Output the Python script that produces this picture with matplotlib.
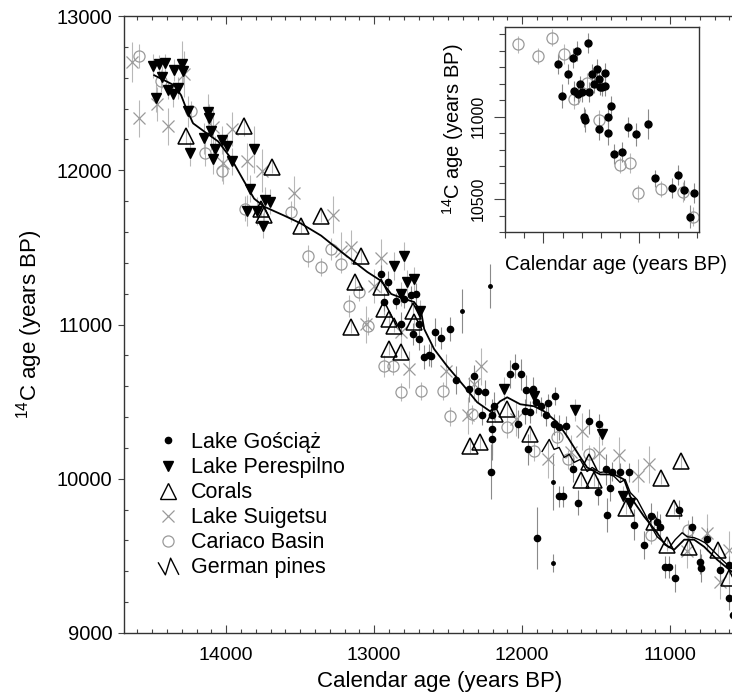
import numpy as np
import matplotlib.pyplot as plt
from matplotlib.path import Path
from matplotlib.lines import Line2D
from matplotlib.ticker import MultipleLocator, FixedLocator, NullFormatter

plt.rcParams['font.family'] = ['Liberation Sans', 'DejaVu Sans']
plt.rcParams['mathtext.fontset'] = 'custom'
plt.rcParams['mathtext.rm'] = 'Liberation Sans'
plt.rcParams['mathtext.it'] = 'Liberation Sans:italic'

# Lake Gosciaz (varve ages)
gos_cal = [12953, 12905, 12932, 12851, 12797, 12750, 12716, 12818, 12736, 12696,
           12696, 12588, 12547, 12486, 12662, 12628, 12446, 12358, 12615, 12324,
           12297, 12250, 12270, 12203, 12189, 12203, 12203, 12209, 12081, 12047,
           12007, 11973, 11926, 11980, 11946, 12027, 11905, 11872, 11824, 11777,
           11838, 11784, 11750, 11703, 11959, 11655, 11899, 11750, 11723, 11622,
           11547, 11480, 11432, 11426, 11392, 11338, 11277, 11243, 11176, 11128,
           11088, 11068, 11034, 11007, 10966, 10939, 10851, 10797, 10790, 10750,
           10662, 10601, 10601, 10574, 11486, 11405]
gos_c14 = [11328, 11276, 11146, 11153, 11166, 11192, 11198, 11003, 10938, 11003,
           10906, 10951, 10912, 10971, 10789, 10802, 10639, 10580, 10795, 10665,
           10568, 10561, 10411, 10411, 10470, 10320, 10255, 10047, 10678, 10730,
           10678, 10574, 10580, 10437, 10431, 10353, 10496, 10470, 10489, 10535,
           10411, 10353, 10333, 10340, 10190, 10060, 9618, 9885, 9885, 9846,
           10372, 10353, 10060, 9768, 10047, 10041, 10041, 9703, 9572, 9761,
           9722, 9689, 9429, 9429, 9358, 9800, 9689, 9462, 9423, 9611,
           9410, 9442, 9228, 9117, 9917, 9943]
gos_err = [60, 70, 60, 50, 60, 60, 70, 80, 70, 60,
           70, 90, 70, 80, 80, 70, 90, 80, 70, 70,
           80, 80, 60, 60, 90, 200, 100, 180, 90, 80,
           100, 100, 80, 80, 70, 90, 70, 60, 60, 60,
           70, 70, 80, 70, 100, 80, 200, 70, 70, 80,
           80, 70, 100, 110, 60, 60, 60, 100, 90, 80,
           70, 80, 70, 70, 90, 60, 70, 80, 90, 70,
           70, 60, 80, 80, 90, 90]

# Gosciaz samples of low weight
gos2_cal = [12405, 12216, 11790, 11790]
gos2_c14 = [11088, 11250, 9976, 9455]
gos2_err = [140, 140, 180, 60]

# Lake Perespilno
pere_cal = [14493, 14453, 14412, 14351, 14297, 14291, 14432, 14392, 14358, 14324,
            14473, 14257, 14122, 14115, 14243, 14149, 14101, 14074, 14088, 14027,
            13993, 13959, 13811, 13838, 13858, 13791, 13736, 13703, 13750, 12865,
            12797, 12777, 12730, 12689, 12818, 12122, 11919, 11642, 11459, 11317, 11270]
pere_c14 = [12675, 12688, 12694, 12649, 12688, 12642, 12603, 12519, 12493, 12532,
            12467, 12382, 12376, 12337, 12109, 12207, 12252, 12141, 12076, 12194,
            12154, 12057, 12135, 11881, 11738, 11738, 11810, 11797, 11641, 11381,
            11446, 11276, 11296, 11088, 11198, 10581, 10535, 10444, 10288, 9885, 9846]
pere_err = [80, 60, 60, 70, 150, 80, 70, 60, 80, 70,
            90, 100, 120, 90, 80, 100, 120, 80, 100, 90,
            80, 90, 150, 90, 100, 90, 80, 80, 80, 90,
            90, 80, 80, 70, 80, 80, 70, 70, 70, 70, 70]

# Corals (U/Th)
cor_cal = [14270, 13878, 13689, 13764, 13743, 13493, 13358, 13088, 13128, 12953,
           12932, 12899, 12865, 13155, 12736, 12730, 12899, 12818, 12351, 12284,
           12182, 12101, 11946, 11601, 11513, 11547, 11297, 11061, 10926, 10973,
           11020, 11108, 10872, 10676, 10601]
cor_c14 = [12220, 12285, 12024, 11751, 11712, 11641, 11706, 11446, 11276, 11244,
           11101, 11036, 10990, 10984, 11088, 11016, 10841, 10821, 10210, 10236,
           10418, 10450, 10288, 9995, 9995, 10106, 9813, 10008, 10112, 9813,
           9572, 9722, 9559, 9540, 9358]
cor_err = [50, 60, 40, 50, 40, 50, 40, 50, 40, 40,
           40, 40, 40, 40, 40, 40, 40, 40, 40, 40,
           50, 40, 40, 40, 40, 40, 40, 40, 40, 40,
           40, 40, 40, 40, 40]

# Lake Suigetsu
sui_cal = [14635, 14588, 14466, 14392, 14284, 14088, 13959, 14020, 13858, 13757,
           13541, 13277, 13155, 13223, 12953, 13000, 13054, 12818, 12763, 12513,
           12277, 12324, 12365, 12040, 11824, 11669, 11595, 11480, 11345, 11216,
           11142, 10885, 10750, 10662, 10601]
sui_c14 = [12701, 12337, 12428, 12285, 12623, 12278, 12265, 12044, 12057, 11998,
           11855, 11712, 11504, 11478, 11433, 11250, 11003, 10951, 10711, 10698,
           10730, 10613, 10411, 10385, 10125, 10171, 10307, 10164, 10151, 10021,
           10093, 9533, 9650, 9332, 9540]
sui_err = [130, 120, 110, 120, 150, 120, 110, 130, 120, 140,
           110, 120, 110, 120, 120, 110, 120, 110, 120, 110,
           120, 110, 120, 110, 120, 110, 120, 110, 120, 110,
           120, 110, 120, 110, 120]

# Cariaco Basin
car_cal = [14588, 14439, 14236, 14142, 14027, 13872, 13561, 13446, 13358, 13223,
           13291, 13101, 13169, 13041, 12932, 12872, 12818, 12682, 12534, 12486,
           12338, 12101, 11919, 11763, 11547, 11689, 11128, 10878]
car_c14 = [12740, 12577, 12382, 12109, 11998, 11751, 11732, 11446, 11374, 11394,
           11491, 11211, 11120, 10990, 10730, 10730, 10561, 10568, 10568, 10405,
           10418, 10333, 10177, 10268, 10158, 10125, 9637, 9670]
car_err = [80, 70, 70, 80, 70, 80, 70, 70, 60, 60,
           70, 60, 70, 60, 70, 60, 60, 60, 60, 60,
           60, 70, 60, 60, 60, 60, 60, 60]

# smoothed curve
curve_cal = [14486, 14351, 14304, 14270, 14223, 14149, 14054, 13966, 13878, 13811,
             13743, 13608, 13493, 13358, 13223, 13047, 12953, 12885, 12797, 12730,
             12682, 12662, 12595, 12507, 12392, 12304, 12216, 12149, 12101, 12013,
             11919, 11851, 11763, 11696, 11628, 11561, 11473, 11378, 11311, 11270,
             11176, 11088, 11034, 10973, 10905, 10838, 10770, 10682, 10574]
curve_c14 = [12616, 12551, 12486, 12402, 12304, 12252, 12187, 12076, 11927, 11816,
             11764, 11706, 11654, 11576, 11472, 11341, 11283, 11198, 11166, 11146,
             11081, 10971, 10841, 10730, 10600, 10496, 10437, 10502, 10528, 10483,
             10470, 10437, 10366, 10275, 10171, 10073, 10028, 10028, 9995, 9885,
             9755, 9650, 9572, 9540, 9605, 9605, 9559, 9475, 9390]

# German pine dendro series
pine_cal = [11865, 11817, 11784, 11750, 11716, 11682, 11649, 11608, 11561, 11527,
            11473, 11426, 11378, 11338, 11304, 11270, 11223, 11176, 11135, 11088,
            11041, 11007, 10966, 10919, 10885, 10838, 10804, 10764, 10703, 10635, 10574]
pine_c14 = [10177, 10255, 10190, 10203, 10138, 10158, 10106, 10125, 10047, 10073,
            10041, 10047, 10015, 9976, 9995, 9911, 9865, 9781, 9703, 9624,
            9585, 9553, 9605, 9650, 9624, 9618, 9605, 9585, 9527, 9462, 9410]

# inset: Gosciaz and Cariaco around the Younger Dryas onset
ins_gos_cal = [12922, 12902, 12870, 12846, 12839, 12827, 12818, 12808, 12797, 12783,
               12787, 12766, 12761, 12749, 12735, 12723, 12711, 12705, 12697, 12679,
               12679, 12711, 12662, 12662, 12648, 12631, 12592, 12561, 12520, 12457,
               12419, 12329, 12301, 12266, 12218, 12237]
ins_gos_c14 = [11318, 11126, 11260, 11359, 11157, 11399, 11138, 11197, 11152, 10980,
               10997, 11450, 11152, 11260, 11197, 11288, 11227, 11183, 11183, 11268,
               11187, 10926, 10900, 10997, 11065, 10774, 10784, 10936, 10895, 10956,
               10626, 10566, 10647, 10556, 10535, 10394]
ins_gos_err = [60, 70, 60, 60, 60, 60, 60, 50, 60, 70,
               60, 60, 60, 60, 50, 60, 60, 50, 60, 60,
               60, 70, 70, 60, 60, 60, 60, 60, 70, 90,
               50, 60, 60, 60, 60, 70]
ins_car_cal = [13131, 13030, 12954, 12891, 12842, 12773, 12711, 12600, 12551, 12509,
               12388, 12272, 12220]
ins_car_c14 = [11440, 11369, 11480, 11379, 11106, 11203, 10980, 10707, 10718, 10535,
               10560, 10545, 10394]
ins_car_err = [50, 50, 50, 60, 60, 60, 60, 50, 60, 50, 50, 60, 60]
ins_yticks = [10500, 11000]

W, H = 732, 695
fig = plt.figure(figsize=(W / 100, H / 100), dpi=100)
ax = fig.add_axes([124 / W, (H - 633) / H, (756 - 124) / W, (633 - 16) / H])

grey = '#9a9a9a'
bar_light = '#b8b8b8'
bar_dark = '#8a8a8a'

ax.errorbar(sui_cal, sui_c14, yerr=sui_err, fmt='x', ms=9, mew=0.9, color=grey,
            ecolor=bar_light, elinewidth=0.8, zorder=2)
ax.errorbar(car_cal, car_c14, yerr=car_err, fmt='o', ms=8, mew=0.9, mfc='none',
            mec=grey, ecolor=bar_light, elinewidth=0.8, zorder=2)
ax.errorbar(cor_cal, cor_c14, yerr=cor_err, fmt='none', ecolor=bar_light,
            elinewidth=0.8, zorder=2)
ax.errorbar(pere_cal, pere_c14, yerr=pere_err, fmt='none', ecolor=bar_light,
            elinewidth=0.8, zorder=2)
ax.errorbar(gos_cal, gos_c14, yerr=gos_err, fmt='none', ecolor=bar_dark,
            elinewidth=0.8, zorder=2)
ax.errorbar(gos2_cal, gos2_c14, yerr=gos2_err, fmt='none', ecolor=bar_dark,
            elinewidth=0.8, zorder=2)

ax.plot(curve_cal, curve_c14, color='black', lw=1.3, zorder=3)
ax.plot(pine_cal, pine_c14, color='black', lw=1.0, zorder=3)

ax.plot(cor_cal, cor_c14, '^', ms=12, mfc='none', mec='black', mew=1.1, zorder=4)
ax.plot(pere_cal, pere_c14, 'v', ms=7.5, color='black', zorder=5)
ax.plot(gos_cal, gos_c14, 'o', ms=4.5, color='black', zorder=5)
ax.plot(gos2_cal, gos2_c14, 'o', ms=2.5, color='black', zorder=5)

ax.set_xlim(14690, 10420)
ax.set_ylim(9000, 13000)
ax.xaxis.set_major_locator(MultipleLocator(1000))
ax.xaxis.set_minor_locator(MultipleLocator(100))
ax.yaxis.set_major_locator(MultipleLocator(1000))
ax.yaxis.set_minor_locator(MultipleLocator(200))
ax.tick_params(axis='x', which='both', direction='in', top=True, labelsize=14, pad=10,
               width=0.8, color='#444444')
ax.tick_params(axis='x', which='major', length=6)
ax.tick_params(axis='x', which='minor', length=3)
ax.tick_params(axis='y', which='major', direction='out', length=4, labelsize=14.5, pad=4.5,
               width=0.8, color='#444444')
ax.tick_params(axis='y', which='minor', direction='in', length=3, width=0.8, color='#444444')
for s in ['left', 'bottom', 'top']:
    ax.spines[s].set_linewidth(1.0)
    ax.spines[s].set_color('#333333')
ax.spines['right'].set_visible(False)

ax.set_xlabel('Calendar age (years BP)', fontsize=16, labelpad=5)
ax.set_ylabel(r'$^{14}$C age (years BP)', fontsize=16, labelpad=8)

zig = Path([(-1.0, 0.4), (-0.3, -0.8), (0.2, 0.8), (1.0, -0.8)],
           [Path.MOVETO, Path.LINETO, Path.LINETO, Path.LINETO])
handles = [
    Line2D([], [], ls='none', marker='o', ms=4.5, color='black'),
    Line2D([], [], ls='none', marker='v', ms=7, color='black'),
    Line2D([], [], ls='none', marker='^', ms=11, mfc='none', mec='black', mew=1.0),
    Line2D([], [], ls='none', marker='x', ms=9, mew=0.9, color=grey),
    Line2D([], [], ls='none', marker='o', ms=8, mew=0.9, mfc='none', mec=grey),
    Line2D([], [], ls='none', marker=zig, ms=15, mfc='none', mec='black', mew=1.0),
]
labels = ['Lake Gościąż', 'Lake Perespilno', 'Corals', 'Lake Suigetsu',
          'Cariaco Basin', 'German pines']
ax.legend(handles, labels, loc='upper left', bbox_to_anchor=(155 / W, 1 - 432 / H),
          bbox_transform=fig.transFigure, frameon=False, fontsize=15.5,
          handlelength=1.2, handletextpad=0.45, labelspacing=0.19, borderpad=0,
          borderaxespad=0)

# inset
ins = fig.add_axes([505 / W, (H - 232) / H, 194 / W, 205 / H])
ins.errorbar(ins_car_cal, ins_car_c14, yerr=ins_car_err, fmt='o', ms=8, mew=0.9,
             mfc='none', mec=grey, ecolor=bar_light, elinewidth=0.8)
ins.errorbar(ins_gos_cal, ins_gos_c14, yerr=ins_gos_err, fmt='o', ms=5, color='black',
             ecolor=bar_dark, elinewidth=0.8)
ins.set_xlim(13200, 12190)
ins.set_ylim(10300, 11545)
ins.xaxis.set_major_locator(MultipleLocator(500))
ins.xaxis.set_minor_locator(MultipleLocator(100))
ins.xaxis.set_major_formatter(NullFormatter())
ins.yaxis.set_major_locator(FixedLocator(ins_yticks))
ins.yaxis.set_minor_locator(MultipleLocator(100))
ins.tick_params(which='both', direction='out', width=0.8, color='#444444')
ins.tick_params(which='major', length=8)
ins.tick_params(which='minor', length=4)
ins.tick_params(axis='y', labelsize=11.5, pad=6)
for lab in ins.get_yticklabels():
    lab.set_rotation(90)
    lab.set_va('center')
for s in ins.spines.values():
    s.set_linewidth(1.0)
    s.set_color('#333333')
ins.set_xlabel('Calendar age (years BP)', fontsize=14.5)
ins.xaxis.set_label_coords(0.572, -0.11)
ins.set_ylabel(r'$^{14}$C age (years BP)', fontsize=14.5)
ins.yaxis.set_label_coords(-0.2, 0.5)

fig.savefig('out.png', dpi=100)
